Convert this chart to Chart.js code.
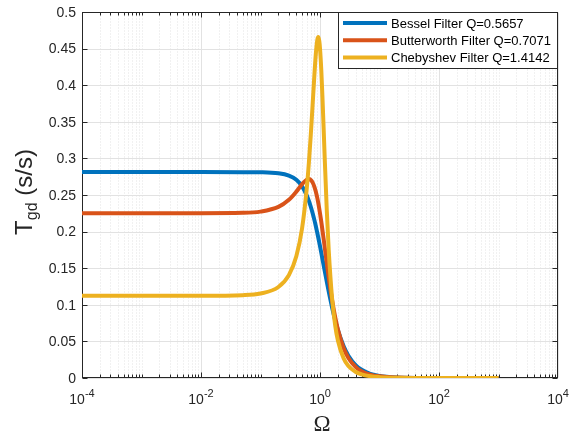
<!DOCTYPE html>
<html>
<head>
<meta charset="utf-8">
<title>Group delay</title>
<script src="https://cdn.jsdelivr.net/npm/chart.js@4.4.0/dist/chart.umd.min.js"></script>
<style>
  body { margin: 0; background: #fff; }
</style>
</head>
<body>
<canvas id="myChart" width="577" height="435"></canvas>
<script>
// normalised frequency samples
var omega = [1e-4, 1e-3, 1e-2, 0.05, 0.1, 0.2, 0.3, 0.4, 0.5, 0.6, 0.65, 0.7, 0.75, 0.8, 0.85, 0.9, 0.933, 0.97,
  1.0, 1.05, 1.1, 1.15, 1.2, 1.3, 1.4, 1.6, 1.8, 2, 2.5, 3, 4, 5, 7, 10, 20, 50, 100, 1000];

var bessel = [0.2813, 0.2813, 0.2813, 0.2812, 0.2810, 0.2796, 0.2764, 0.2707, 0.2617, 0.2493, 0.2420, 0.2340, 0.2255,
  0.2167, 0.2076, 0.1983, 0.1923, 0.1855, 0.1801, 0.1712, 0.1625, 0.1542, 0.1463, 0.1315, 0.1182, 0.0960, 0.0788,
  0.0654, 0.0433, 0.0305, 0.0174, 0.0112, 0.0057, 0.0028, 0.0007, 0.0001, 0.00003, 0];

var butterworth = [0.2251, 0.2251, 0.2251, 0.2256, 0.2273, 0.2337, 0.2434, 0.2546, 0.2648, 0.2710, 0.2717, 0.2704,
  0.2672, 0.2619, 0.2547, 0.2460, 0.2395, 0.2317, 0.2251, 0.2136, 0.2019, 0.1902, 0.1787, 0.1570, 0.1376, 0.1061,
  0.0830, 0.0662, 0.0407, 0.0274, 0.0149, 0.0093, 0.0047, 0.0023, 0.0006, 0.0001, 0.00002, 0];

var chebyshev = [0.1125, 0.1125, 0.1125, 0.1132, 0.1154, 0.1243, 0.1405, 0.1662, 0.2046, 0.2596, 0.2939, 0.3320,
  0.3720, 0.4105, 0.4423, 0.4618, 0.4657, 0.4609, 0.4502, 0.4212, 0.3832, 0.3416, 0.3006, 0.2292, 0.1752, 0.1079,
  0.0719, 0.0512, 0.0266, 0.0164, 0.0082, 0.0050, 0.0024, 0.0012, 0.0003, 0.00005, 0.00001, 0];

var seriesNames = ["Bessel Filter Q=0.5657", "Butterworth Filter Q=0.7071", "Chebyshev Filter Q=1.4142"];
var yTicks = [0, 0.05, 0.1, 0.15, 0.2, 0.25, 0.3, 0.35, 0.4, 0.45, 0.5];
var xDecades = [-4, -2, 0, 2, 4];

var axisColor = "#262626";
var font = "'Liberation Sans', Arial, sans-serif";

function pts(ys) {
  return omega.map(function (w, i) { return { x: w, y: ys[i] }; });
}

function seg(ctx, x1, y1, x2, y2) {
  ctx.beginPath();
  ctx.moveTo(x1, y1);
  ctx.lineTo(x2, y2);
  ctx.stroke();
}

var decor = {
  id: "decor",
  beforeDatasetsDraw: function (chart) {
    var ctx = chart.ctx, a = chart.chartArea;
    var xs = chart.scales.x, ys = chart.scales.y;
    var L = a.left + 0.5, R = a.right - 0.5, T = a.top + 0.5, B = a.bottom - 0.5;
    ctx.save();
    ctx.lineWidth = 1;

    // minor grid (dotted), every 1..9 x 10^e except labelled decades
    ctx.strokeStyle = "#e3e3e3";
    ctx.setLineDash([1, 2]);
    for (var e = -4; e < 4; e++) {
      for (var m = 1; m < 10; m++) {
        if (m === 1 && e % 2 === 0) continue;
        var px = Math.round(xs.getPixelForValue(m * Math.pow(10, e))) + 0.5;
        seg(ctx, px, T, px, B);
      }
    }
    ctx.setLineDash([]);

    // major grid
    ctx.strokeStyle = "#e2e2e2";
    xDecades.forEach(function (d) {
      var px = Math.round(xs.getPixelForValue(Math.pow(10, d))) + 0.5;
      seg(ctx, px, T, px, B);
    });
    yTicks.forEach(function (v) {
      var py = Math.round(ys.getPixelForValue(v)) + 0.5;
      seg(ctx, L, py, R, py);
    });

    // box + inward ticks
    ctx.strokeStyle = axisColor;
    ctx.strokeRect(L, T, R - L, B - T);
    yTicks.forEach(function (v) {
      var py = Math.round(ys.getPixelForValue(v)) + 0.5;
      seg(ctx, L, py, L + 5, py);
      seg(ctx, R, py, R - 5, py);
    });
    for (var e2 = -4; e2 < 4; e2++) {
      for (var m2 = 1; m2 < 10; m2++) {
        var major = m2 === 1 && e2 % 2 === 0;
        var qx = Math.round(xs.getPixelForValue(m2 * Math.pow(10, e2))) + 0.5;
        var len = major ? 5 : 3;
        seg(ctx, qx, B, qx, B - len);
        seg(ctx, qx, T, qx, T + len);
      }
    }

    // y tick labels
    ctx.fillStyle = axisColor;
    ctx.font = "14px " + font;
    ctx.textAlign = "right";
    ctx.textBaseline = "middle";
    yTicks.forEach(function (v) {
      ctx.fillText(String(v), a.left - 6, ys.getPixelForValue(v) + 1);
    });

    // x tick labels 10^n
    ctx.textAlign = "left";
    ctx.textBaseline = "alphabetic";
    xDecades.forEach(function (d) {
      var cx = xs.getPixelForValue(Math.pow(10, d));
      ctx.font = "14px " + font;
      var wb = ctx.measureText("10").width;
      ctx.font = "11px " + font;
      var we = ctx.measureText(String(d)).width;
      var x0 = cx - (wb + we) / 2;
      ctx.font = "14px " + font;
      ctx.fillText("10", x0, 404);
      ctx.font = "11px " + font;
      ctx.fillText(String(d), x0 + wb, 397);
    });

    // x title
    ctx.font = "23px 'Liberation Serif', serif";
    ctx.textAlign = "center";
    ctx.fillText("\u03A9", (a.left + a.right) / 2 + 2, 431);

    // y title: T_gd (s/s), rotated
    ctx.save();
    ctx.translate(32, (a.top + a.bottom) / 2 - 3);
    ctx.rotate(-Math.PI / 2);
    ctx.textAlign = "left";
    ctx.font = "24px " + font;
    var wT = ctx.measureText("T").width;
    var wR = ctx.measureText(" (s/s)").width;
    ctx.font = "16px " + font;
    var wS = ctx.measureText("gd").width;
    var sx = -(wT + wS + wR) / 2;
    ctx.font = "24px " + font;
    ctx.fillText("T", sx, 0);
    ctx.font = "16px " + font;
    ctx.fillText("gd", sx + wT, 5);
    ctx.font = "24px " + font;
    ctx.fillText(" (s/s)", sx + wT + wS, 0);
    ctx.restore();

    ctx.restore();
  },
  afterDatasetsDraw: function (chart) {
    // legend box in the top right corner
    var ctx = chart.ctx;
    var bx = 338.5, by = 12.5, bw = 219, bh = 56;
    ctx.save();
    ctx.fillStyle = "#fff";
    ctx.fillRect(bx, by, bw, bh);
    ctx.strokeStyle = axisColor;
    ctx.lineWidth = 1;
    ctx.strokeRect(bx, by, bw, bh);
    ctx.font = "13px " + font;
    ctx.textBaseline = "middle";
    ctx.textAlign = "left";
    chart.data.datasets.forEach(function (ds, i) {
      var yy = 23 + i * 17.3;
      ctx.strokeStyle = ds.borderColor;
      ctx.lineWidth = 4;
      seg(ctx, 343, yy, 387, yy);
      ctx.fillStyle = "#000";
      ctx.fillText(ds.label, 391, yy + 1);
    });
    ctx.restore();
  }
};

var ctx = document.getElementById("myChart").getContext("2d");
var myChart = new Chart(ctx, {
  type: "line",
  data: {
    datasets: [
      { label: seriesNames[0], data: pts(bessel), borderColor: "#0072BD", order: 2 },
      { label: seriesNames[1], data: pts(butterworth), borderColor: "#D95319", order: 1 },
      { label: seriesNames[2], data: pts(chebyshev), borderColor: "#EDB120", order: 0 }
    ]
  },
  options: {
    responsive: false,
    animation: false,
    devicePixelRatio: 1,
    layout: { padding: { left: 82, right: 19, top: 12, bottom: 57 } },
    elements: {
      line: { borderWidth: 4, fill: false, cubicInterpolationMode: "monotone" },
      point: { radius: 0, hoverRadius: 0 }
    },
    plugins: { legend: { display: false }, tooltip: { enabled: false } },
    scales: {
      x: { type: "logarithmic", min: 1e-4, max: 1e4, display: false },
      y: { type: "linear", min: 0, max: 0.5, display: false }
    }
  },
  plugins: [decor]
});
</script>
</body>
</html>
